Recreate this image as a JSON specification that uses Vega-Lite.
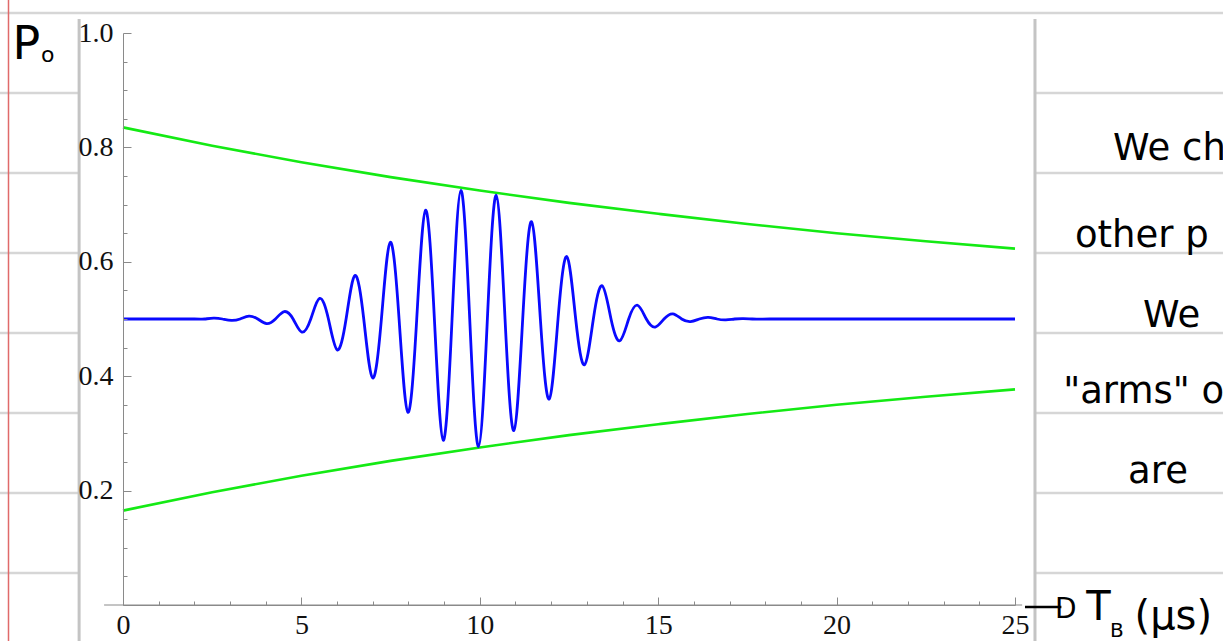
{
  "$schema": "https://vega.github.io/schema/vega-lite/v6.json",
  "width": 892,
  "height": 572,
  "autosize": {"type": "none"},
  "padding": {"left": 123, "top": 33, "right": 208, "bottom": 36},
  "background": "white",
  "config": {"view": {"stroke": null}},
  "encoding": {
    "x": {
      "field": "x", "type": "quantitative",
      "scale": {"domain": [0, 25], "nice": false, "zero": false},
      "axis": {
        "title": null, "grid": false, "zindex": 1,
        "values": [0,1,2,3,4,5,6,7,8,9,10,11,12,13,14,15,16,17,18,19,20,21,22,23,24,25],
        "labelExpr": "datum.value % 5 === 0 ? datum.label : ''",
        "tickSize": {"condition": {"test": "datum.value % 5 === 0", "value": -8}, "value": -4},
        "domainColor": "#8a8a8a", "tickColor": "#8a8a8a", "tickWidth": 1, "domainWidth": 1,
        "labelFont": "Liberation Serif", "labelFontSize": 28, "labelColor": "#111",
        "labelPadding": 14, "labelFlush": false, "labelOverlap": false, "labelBound": false
      }
    },
    "y": {
      "field": "y", "type": "quantitative",
      "scale": {"domain": [0, 1], "nice": false, "zero": false},
      "axis": {
        "title": null, "grid": false, "zindex": 1,
        "values": [0.05,0.1,0.15,0.2,0.25,0.3,0.35,0.4,0.45,0.5,0.55,0.6,0.65,0.7,0.75,0.8,0.85,0.9,0.95,1.0],
        "labelExpr": "round(datum.value*100) % 20 === 0 ? format(datum.value, '.1f') : ''",
        "tickSize": {"condition": {"test": "round(datum.value*100) % 20 === 0", "value": -8}, "value": -4},
        "domainColor": "#8a8a8a", "tickColor": "#8a8a8a", "tickWidth": 1, "domainWidth": 1,
        "labelFont": "Liberation Serif", "labelFontSize": 28, "labelColor": "#111",
        "labelPadding": 18, "labelFlush": false, "labelOverlap": false, "labelBound": false
      }
    }
  },
  "layer": [
    {
      "data": {"values": [
        {"x": -3.6, "x2": 31, "y": 1.035},
        {"x": -3.6, "x2": 31, "y": 0.895},
        {"x": -3.6, "x2": 31, "y": 0.7552},
        {"x": -3.6, "x2": 31, "y": 0.6154},
        {"x": -3.6, "x2": 31, "y": 0.4755},
        {"x": -3.6, "x2": 31, "y": 0.3357},
        {"x": -3.6, "x2": 31, "y": 0.1958},
        {"x": -3.6, "x2": 31, "y": 0.0559}
      ]},
      "mark": {"type": "rule", "color": "#d6d6d6", "strokeWidth": 2.5},
      "encoding": {"x2": {"field": "x2"}}
    },
    {
      "data": {"values": [{"x": -3.209, "y": -0.08, "y2": 1.08}]},
      "mark": {"type": "rule", "color": "#e06a6a", "strokeWidth": 1.5},
      "encoding": {"y2": {"field": "y2"}}
    },
    {
      "data": {"values": [{"x": -1.205, "x2": 25.53, "y": -0.08, "y2": 1.0245}]},
      "mark": {"type": "rect", "fill": "white"},
      "encoding": {"x2": {"field": "x2"}, "y2": {"field": "y2"}}
    },
    {
      "data": {"values": [
        {"x": -1.23, "y": -0.08, "y2": 1.0245},
        {"x": 25.56, "y": -0.08, "y2": 1.0245}
      ]},
      "mark": {"type": "rule", "color": "#c4c4c4", "strokeWidth": 3},
      "encoding": {"y2": {"field": "y2"}}
    },
    {
      "data": {"values": [{"x": -0.53, "x2": 25.2, "y": 0}]},
      "mark": {"type": "rule", "color": "#8a8a8a", "strokeWidth": 1},
      "encoding": {"x2": {"field": "x2"}}
    },
    {
      "data": {"values": [
        {"s": "upper", "x": 0, "y": 0.835},
        {"s": "upper", "x": 2.5, "y": 0.803},
        {"s": "upper", "x": 5, "y": 0.774},
        {"s": "upper", "x": 7.5, "y": 0.748},
        {"s": "upper", "x": 10, "y": 0.7245},
        {"s": "upper", "x": 12.5, "y": 0.703},
        {"s": "upper", "x": 15, "y": 0.684},
        {"s": "upper", "x": 17.5, "y": 0.666},
        {"s": "upper", "x": 20, "y": 0.65},
        {"s": "upper", "x": 22.5, "y": 0.636},
        {"s": "upper", "x": 25, "y": 0.623},
        {"s": "lower", "x": 0, "y": 0.165},
        {"s": "lower", "x": 2.5, "y": 0.197},
        {"s": "lower", "x": 5, "y": 0.226},
        {"s": "lower", "x": 7.5, "y": 0.252},
        {"s": "lower", "x": 10, "y": 0.2755},
        {"s": "lower", "x": 12.5, "y": 0.297},
        {"s": "lower", "x": 15, "y": 0.316},
        {"s": "lower", "x": 17.5, "y": 0.334},
        {"s": "lower", "x": 20, "y": 0.35},
        {"s": "lower", "x": 22.5, "y": 0.364},
        {"s": "lower", "x": 25, "y": 0.377}
      ]},
      "mark": {"type": "line", "color": "#14ea14", "strokeWidth": 2.6, "interpolate": "monotone"},
      "encoding": {"detail": {"field": "s"}}
    },
    {
      "data": {"values": [
        {"x": 0, "y": 0.5}, {"x": 1, "y": 0.5}, {"x": 2, "y": 0.5}, {"x": 2.2925, "y": 0.5},
        {"x": 2.54, "y": 0.5015}, {"x": 2.7875, "y": 0.5},
        {"x": 3.035, "y": 0.4975}, {"x": 3.2825, "y": 0.5},
        {"x": 3.53, "y": 0.505}, {"x": 3.7775, "y": 0.5},
        {"x": 4.025, "y": 0.492}, {"x": 4.2725, "y": 0.5},
        {"x": 4.52, "y": 0.513}, {"x": 4.7675, "y": 0.5},
        {"x": 5.015, "y": 0.477}, {"x": 5.2625, "y": 0.5},
        {"x": 5.51, "y": 0.536}, {"x": 5.7575, "y": 0.5},
        {"x": 6.005, "y": 0.446}, {"x": 6.2525, "y": 0.5},
        {"x": 6.5, "y": 0.576}, {"x": 6.7475, "y": 0.5},
        {"x": 6.995, "y": 0.397}, {"x": 7.2425, "y": 0.5},
        {"x": 7.49, "y": 0.634}, {"x": 7.7375, "y": 0.5},
        {"x": 7.985, "y": 0.337}, {"x": 8.2325, "y": 0.5},
        {"x": 8.48, "y": 0.69}, {"x": 8.7275, "y": 0.5},
        {"x": 8.975, "y": 0.288}, {"x": 9.2225, "y": 0.5},
        {"x": 9.47, "y": 0.725}, {"x": 9.7175, "y": 0.5},
        {"x": 9.965, "y": 0.277}, {"x": 10.2125, "y": 0.5},
        {"x": 10.46, "y": 0.716}, {"x": 10.7075, "y": 0.5},
        {"x": 10.955, "y": 0.305}, {"x": 11.2025, "y": 0.5},
        {"x": 11.45, "y": 0.67}, {"x": 11.6975, "y": 0.5},
        {"x": 11.945, "y": 0.36}, {"x": 12.1925, "y": 0.5},
        {"x": 12.44, "y": 0.609}, {"x": 12.6875, "y": 0.5},
        {"x": 12.935, "y": 0.42}, {"x": 13.1825, "y": 0.5},
        {"x": 13.43, "y": 0.558}, {"x": 13.6775, "y": 0.5},
        {"x": 13.925, "y": 0.462}, {"x": 14.1725, "y": 0.5},
        {"x": 14.42, "y": 0.524}, {"x": 14.6675, "y": 0.5},
        {"x": 14.915, "y": 0.486}, {"x": 15.1625, "y": 0.5},
        {"x": 15.41, "y": 0.509}, {"x": 15.6575, "y": 0.5},
        {"x": 15.905, "y": 0.4955}, {"x": 16.1525, "y": 0.5},
        {"x": 16.4, "y": 0.503}, {"x": 16.6475, "y": 0.5},
        {"x": 16.895, "y": 0.4985}, {"x": 17.1425, "y": 0.5},
        {"x": 17.39, "y": 0.5006}, {"x": 17.6375, "y": 0.5},
        {"x": 17.885, "y": 0.4997}, {"x": 18.1325, "y": 0.5},
        {"x": 19, "y": 0.5}, {"x": 20, "y": 0.5}, {"x": 22, "y": 0.5}, {"x": 25, "y": 0.5}
      ]},
      "mark": {"type": "line", "color": "#0a0aff", "strokeWidth": 2.8, "interpolate": "natural"}
    },
    {
      "data": {"values": [{"x": -3.1, "y": 0.955, "t": "P"}]},
      "mark": {"type": "text", "align": "left", "baseline": "alphabetic", "font": "DejaVu Sans", "fontSize": 46, "color": "black"},
      "encoding": {"text": {"field": "t"}}
    },
    {
      "data": {"values": [{"x": -2.3, "y": 0.949, "t": "o"}]},
      "mark": {"type": "text", "align": "left", "baseline": "alphabetic", "font": "DejaVu Sans", "fontSize": 22, "color": "black"},
      "encoding": {"text": {"field": "t"}}
    },
    {
      "data": {"values": [
        {"x": 27.75, "y": 0.778, "t": "We ch"},
        {"x": 26.68, "y": 0.626, "t": "other p"},
        {"x": 28.59, "y": 0.486, "t": "We"},
        {"x": 26.35, "y": 0.353, "t": "\"arms\" of"},
        {"x": 28.17, "y": 0.213, "t": "are"}
      ]},
      "mark": {"type": "text", "align": "left", "baseline": "alphabetic", "font": "DejaVu Sans", "fontSize": 37, "color": "black"},
      "encoding": {"text": {"field": "t"}}
    },
    {
      "data": {"values": [{"x": 25.28, "x2": 26.3, "y": -0.0035}]},
      "mark": {"type": "rule", "color": "black", "strokeWidth": 2.5},
      "encoding": {"x2": {"field": "x2"}}
    },
    {
      "data": {"values": [{"x": 26.12, "y": -0.022, "t": "D"}]},
      "mark": {"type": "text", "align": "left", "baseline": "alphabetic", "font": "DejaVu Sans", "fontSize": 28, "color": "black"},
      "encoding": {"text": {"field": "t"}}
    },
    {
      "data": {"values": [{"x": 27.0, "y": -0.026, "t": "T"}, {"x": 28.35, "y": -0.042, "t": "(μs)"}]},
      "mark": {"type": "text", "align": "left", "baseline": "alphabetic", "font": "DejaVu Sans", "fontSize": 40, "color": "black"},
      "encoding": {"text": {"field": "t"}}
    },
    {
      "data": {"values": [{"x": 27.66, "y": -0.056, "t": "B"}]},
      "mark": {"type": "text", "align": "left", "baseline": "alphabetic", "font": "DejaVu Sans", "fontSize": 20, "color": "black"},
      "encoding": {"text": {"field": "t"}}
    }
  ]
}
